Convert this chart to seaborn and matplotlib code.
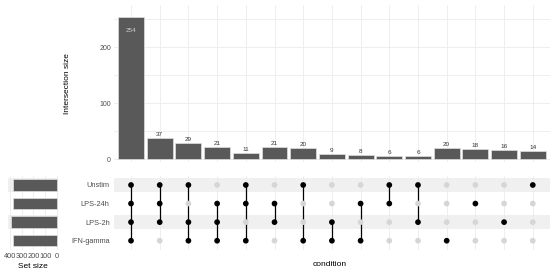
import numpy as np
import pandas as pd
import matplotlib
matplotlib.use("Agg")
import matplotlib.pyplot as plt
import seaborn as sns

# ---- data ----
sets = ["Unstim", "LPS-24h", "LPS-2h", "IFN-gamma"]
set_sizes = [377, 376, 393, 372]

intersection_sizes = [254, 37, 29, 21, 11, 21, 20, 9, 8, 6, 6, 20, 18, 16, 14]

# membership per intersection column (names of sets that are in it)
members = [
    ["Unstim", "LPS-24h", "LPS-2h", "IFN-gamma"],
    ["Unstim", "LPS-24h", "LPS-2h"],
    ["Unstim", "LPS-2h", "IFN-gamma"],
    ["LPS-24h", "LPS-2h", "IFN-gamma"],
    ["Unstim", "LPS-24h", "IFN-gamma"],
    ["LPS-24h", "LPS-2h"],
    ["Unstim", "IFN-gamma"],
    ["LPS-2h", "IFN-gamma"],
    ["LPS-24h", "IFN-gamma"],
    ["Unstim", "LPS-24h"],
    ["Unstim", "LPS-2h"],
    ["IFN-gamma"],
    ["LPS-24h"],
    ["LPS-2h"],
    ["Unstim"],
]

BAR = "#595959"
GRID = "#ebebeb"
TXT = "#4d4d4d"

sns.set_theme(style="white")
plt.rcParams["font.family"] = ["Liberation Sans", "DejaVu Sans"]

W, H = 560, 280
fig = plt.figure(figsize=(W / 100, H / 100), dpi=100, facecolor="white")


def px_axes(left, top, right, bottom):
    return fig.add_axes([left / W, 1 - bottom / H, (right - left) / W, (bottom - top) / H])


n = len(intersection_sizes)
xlim = (-0.6, n - 0.4)

# ---- intersection size bars ----
ax_bar = px_axes(113.8, 5, 550, 162)
bar_df = pd.DataFrame({"col": list(range(n)), "size": intersection_sizes})
sns.barplot(data=bar_df, x="col", y="size", color=BAR, width=0.9,
            edgecolor="#e0e0e0", linewidth=0.5, saturation=1, ax=ax_bar)
ax_bar.set_xlim(*xlim)
ax_bar.set_ylim(-5, 275)
ax_bar.set_yticks([0, 100, 200])
ax_bar.set_yticks([50, 150, 250], minor=True)
ax_bar.grid(True, which="both", color=GRID, linewidth=0.6)
ax_bar.set_axisbelow(True)
ax_bar.set_xticklabels([])
ax_bar.tick_params(axis="x", length=0)
ax_bar.tick_params(axis="y", labelsize=5, labelcolor=TXT, length=0, pad=2)
ax_bar.set_xlabel("")
ax_bar.set_ylabel("Intersection size", fontsize=6, color="black", labelpad=20)
for s in ax_bar.spines.values():
    s.set_visible(False)
for i, v in enumerate(intersection_sizes):
    if v > 200:
        ax_bar.text(i, v - 25, str(v), ha="center", va="center", fontsize=4.6, color="#d0d0d0")
    else:
        ax_bar.text(i, v + 2, str(v), ha="center", va="bottom", fontsize=4.6, color="#333333")

# ---- matrix ----
ax_mat = px_axes(113.8, 175.7, 550, 250)
ax_mat.set_xlim(*xlim)
ax_mat.set_ylim(len(sets) - 0.5, -0.5)
for r in range(len(sets)):
    if r % 2 == 0:
        ax_mat.axhspan(r - 0.38, r + 0.38, color="#f0f0f0", zorder=0, lw=0)
for c in range(n):
    ax_mat.axvline(c, color=GRID, lw=0.6, zorder=0.5)

rows = []
for c, mem in enumerate(members):
    for r, s in enumerate(sets):
        rows.append({"col": c, "row": r, "in": s in mem})
mat_df = pd.DataFrame(rows)
sns.scatterplot(data=mat_df, x="col", y="row", hue="in",
                palette={True: "black", False: "#d6d6d6"},
                s=17, linewidth=0, legend=False, zorder=3, ax=ax_mat)
for c, mem in enumerate(members):
    idx = [sets.index(m) for m in mem]
    if len(idx) > 1:
        ax_mat.vlines(c, min(idx), max(idx), color="black", lw=0.9, zorder=2)

ax_mat.set_yticks(range(len(sets)))
ax_mat.set_yticklabels(sets)
ax_mat.set_xticks([])
ax_mat.tick_params(axis="y", labelsize=5.3, labelcolor=TXT, length=0, pad=3)
ax_mat.set_ylabel("")
ax_mat.set_xlabel("")
for s in ax_mat.spines.values():
    s.set_visible(False)
fig.text(330 / W, 1 - 265 / H, "condition", ha="center", va="center", fontsize=6, color="black")

# ---- set size bars ----
ax_set = px_axes(7.6, 175.7, 58.2, 250)
set_df = pd.DataFrame({"set": sets, "size": set_sizes})
ax_set.axhspan(-0.38, 0.38, color="#f0f0f0", zorder=0, lw=0)
ax_set.axhspan(1.62, 2.38, color="#f0f0f0", zorder=0, lw=0)
sns.barplot(data=set_df, y="set", x="size", color=BAR, orient="h", width=0.62,
            edgecolor="#e0e0e0", linewidth=0.5, saturation=1, ax=ax_set)
ax_set.set_xlim(420, -10)
ax_set.set_ylim(len(sets) - 0.5, -0.5)
ax_set.set_xticks([400, 300, 200, 100, 0])
ax_set.grid(True, axis="x", color=GRID, linewidth=0.6)
ax_set.set_axisbelow(True)
ax_set.set_yticks([])
ax_set.tick_params(axis="x", labelsize=5.3, labelcolor=TXT, length=0, pad=2)
ax_set.set_ylabel("")
ax_set.set_xlabel("Set size", fontsize=6, color="black", labelpad=2)
for s in ax_set.spines.values():
    s.set_visible(False)

fig.savefig("out.png", dpi=100, facecolor="white")
